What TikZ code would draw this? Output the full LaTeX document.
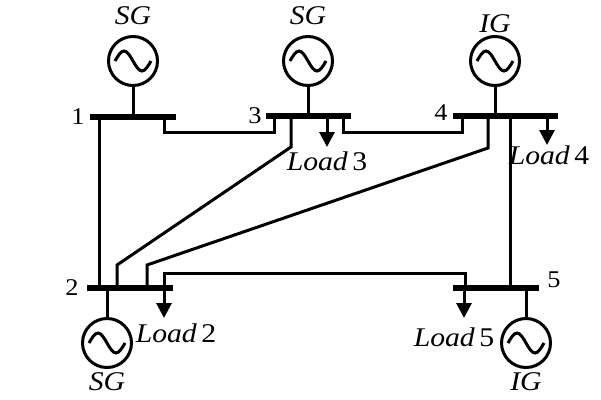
\documentclass[tikz,border=0pt]{standalone}
\usepackage{fontspec}
\setmainfont{Liberation Serif}[FakeStretch=1.1]
\usepackage{tikz}
\usetikzlibrary{arrows.meta}
\usetikzlibrary{positioning}

\begin{document}
\begin{tikzpicture}[x=1pt, y=-1pt, line width=3pt, >={Triangle[width=15pt,length=15pt]}]
  \tikzset{
    bus/.style={fill, inner sep=0pt, minimum height=5.5pt},
    gen/.style={draw, circle, minimum size=49pt, inner sep=0pt,
      path picture={\draw[line width=3pt] ([xshift=-18pt]path picture bounding box.center)
        sin ++(9pt,10pt) cos ++(9pt,-10pt) sin ++(9pt,-10pt) cos ++(9pt,10pt);}},
    busno/.style={font=\fontsize{24}{24}\selectfont},
    gname/.style={font=\fontsize{27}{27}\selectfont\itshape},
    loadname/.style={font=\fontsize{27}{27}\selectfont}
  }
  \useasboundingbox (0,0) rectangle (601,399);

  \node[bus, minimum width=86pt]  (bus1) at (133,117) {};
  \node[bus, minimum width=86pt]  (bus2) at (130,288) {};
  \node[bus, minimum width=85pt]  (bus3) at (308.5,116) {};
  \node[bus, minimum width=105pt] (bus4) at (505.5,116) {};
  \node[bus, minimum width=86pt]  (bus5) at (496,288) {};

  \node[busno, left=-1pt of bus1] (n1) {1};
  \node[busno, left=2pt of bus2] (n2) {2};
  \node[busno, left=-2pt of bus3] (n3) {3};
  \node[busno, left=-1pt of bus4, yshift=3pt] (n4) {4};
  \node[busno, right=2pt of bus5, yshift=8pt] (n5) {5};

  \node[gen] (g1) at (133,61) {};
  \node[gen] (g2) at (107,343) {};
  \node[gen] (g3) at (308,61) {};
  \node[gen] (g4) at (495,61) {};
  \node[gen] (g5) at (526,343) {};

  \node[gname, above=5pt of g1] (sg1) {SG};
  \node[gname, above=5pt of g3] (sg3) {SG};
  \node[gname, above=-3pt of g4] (ig4) {IG};
  \node[gname, below=-1pt of g2] (sg2) {SG};
  \node[gname, below=-1pt of g5] (ig5) {IG};

  \foreach \g/\b in {g1/bus1, g2/bus2, g3/bus3, g4/bus4, g5/bus5}
    \draw (\g) -- (\g |- \b);

  % lines between buses
  \draw (99,0 |- bus1) -- (99,0 |- bus2);
  \draw (164,0 |- bus1) |- (274,132) -- (274,0 |- bus3);
  \draw (291,0 |- bus3) -- (291,147) -- (117,265) -- (117,0 |- bus2);
  \draw (343,0 |- bus3) |- (462,132) -- (462,0 |- bus4);
  \draw (488,0 |- bus4) -- (488,148) -- (147,265) -- (147,0 |- bus2);
  \draw (510,0 |- bus4) -- (510,0 |- bus5);
  \draw (164,0 |- bus2) |- (465,273) -- (465,0 |- bus5);

  % loads
  \coordinate (l2) at (164,318);
  \coordinate (l3) at (327,147);
  \coordinate (l4) at (547,145);
  \coordinate (l5) at (464,318);
  \foreach \l/\b in {l2/bus2, l3/bus3, l4/bus4, l5/bus5}
    \draw[->] (\l |- \b) -- (\l);

  \node[loadname, below=1pt of l2, xshift=12pt] (ld2) {\textit{Load}\,2};
  \node[loadname, below=0pt of l3] (ld3) {\textit{Load}\,3};
  \node[loadname, below=-4pt of l4, xshift=2pt] (ld4) {\textit{Load}\,4};
  \node[loadname, below=5pt of l5, xshift=-10pt] (ld5) {\textit{Load}\,5};
\end{tikzpicture}
\end{document}
